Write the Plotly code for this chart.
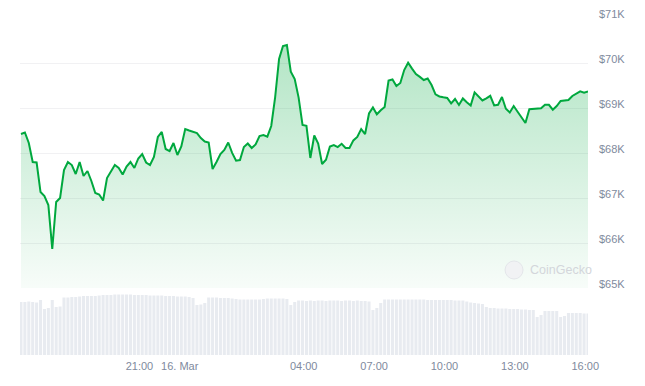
import pandas as pd
import plotly.graph_objects as go

# ---- data ----
start_time = "2024-03-15 15:57"
step = "10min"

price = [
    68422, 68456, 68222, 67800, 67789, 67133, 67044, 66844, 65867, 66911,
    67000, 67622, 67800, 67733, 67533, 67800, 67489, 67600, 67378, 67111,
    67078, 66944, 67444, 67585, 67733, 67667, 67522, 67700, 67800, 67667,
    67878, 67978, 67789, 67733, 67911, 68356, 68467, 68089, 68044, 68222,
    67956, 68144, 68533, 68500, 68467, 68444, 68333, 68256, 68233, 67644,
    67800, 67978, 68067, 68233, 68004, 67829, 67844, 68133, 68211, 68111,
    68189, 68378, 68400, 68364, 68600, 69244, 70089, 70378, 70400, 69809,
    69644, 69231, 68622, 68604, 67889, 68389, 68207, 67756, 67849, 68144,
    68178, 68133, 68204, 68111, 68111, 68280, 68356, 68533, 68422, 68878,
    69011, 68860, 68951, 69022, 69611, 69633, 69489, 69556, 69844, 70007,
    69876, 69756, 69691, 69622, 69656, 69511, 69304, 69256, 69238, 69224,
    69104, 69200, 69067, 69213, 69129, 69056, 69347, 69267, 69167, 69216,
    69271, 69056, 69071, 69244, 68982, 68900, 69044, 68918, 68778, 68667,
    68971, 68982, 68982, 68993, 69073, 69071, 68962, 69044, 69156, 69169,
    69178, 69267, 69329, 69371, 69340, 69367,
]

volume_bn = [
    53, 53, 53.5, 53, 52.5, 55, 46, 47, 55, 48,
    48.5, 57.5, 57.5, 58, 58, 58.5, 59, 59, 59, 59,
    59.5, 60, 60, 60, 60.5, 60.5, 60.5, 60.5, 60.5, 60,
    60, 60, 60, 59.5, 59.5, 59.5, 59.5, 59, 59, 59,
    58.5, 58.5, 58.5, 58, 57, 50, 50.5, 52, 57.5, 57.5,
    57.5, 57, 57, 57, 56.5, 56, 55.5, 55.5, 55.5, 55.5,
    55.5, 55.5, 56, 56.5, 56.5, 56.5, 56.5, 56.5, 56, 50,
    53, 54.5, 54.5, 54, 54.5, 54, 54.5, 54.5, 54, 54.5,
    54.5, 54.5, 54, 54.5, 54.5, 54, 54.5, 54, 54, 53.5,
    45, 47, 52, 55.5, 55.5, 55.5, 55.5, 55.5, 55.5, 55.5,
    55.5, 55.5, 55.5, 55.5, 55, 55, 55, 55, 55, 55,
    55, 54.5, 54.5, 54.5, 53.5, 52.5, 52, 51.5, 51, 48,
    47, 47, 46.5, 46.5, 46.5, 46, 46, 46, 45.5, 45.5,
    45, 45, 38, 40, 44, 44, 44, 44, 38, 39,
    42, 42, 42, 42, 41.5, 41.5,
]

x_range = ["2024-03-15 15:54:30", "2024-03-16 16:07"]
tick_times = ["2024-03-15 21:00", "2024-03-15 22:43", "2024-03-16 04:00",
              "2024-03-16 07:00", "2024-03-16 10:00", "2024-03-16 13:00",
              "2024-03-16 16:00"]
tick_labels = ["21:00", "16. Mar", "04:00", "07:00", "10:00", "13:00", "16:00"]

price_ticks = [65000, 66000, 67000, 68000, 69000, 70000, 71000]
price_tick_labels = ["$65K", "$66K", "$67K", "$68K", "$69K", "$70K", "$71K"]
price_range = [65000, 71000]

times = pd.date_range(start_time, periods=len(price), freq=step)

GREEN = "#00a83e"
FONT = "Liberation Sans"
GRAY = "#808a9d"

fig = go.Figure()

fig.add_trace(go.Bar(
    x=times, y=volume_bn, yaxis="y2",
    marker=dict(color="#e8ebf0", line=dict(width=0)),
    hoverinfo="skip",
))

fig.add_trace(go.Scatter(
    x=times, y=price, mode="lines",
    line=dict(color=GREEN, width=2),
    fill="tozeroy",
    fillgradient=dict(
        type="vertical",
        colorscale=[[0, "rgba(0,168,62,0.03)"], [1, "rgba(0,168,62,0.30)"]],
        start=65000, stop=70400,
    ),
    hoverinfo="skip",
))

# invisible carrier so the label axis is drawn
fig.add_trace(go.Scatter(
    x=[times[0]], y=[price_range[0]], yaxis="y3", mode="markers",
    marker=dict(opacity=0), hoverinfo="skip",
))

fig.update_layout(
    width=645, height=386,
    margin=dict(l=20, r=57, t=10, b=31, autoexpand=False),
    paper_bgcolor="white", plot_bgcolor="rgba(0,0,0,0)",
    showlegend=False, hovermode=False,
    bargap=0.22,
    font=dict(family=FONT, size=11, color=GRAY),
    xaxis=dict(
        type="date", range=x_range, anchor="y2", automargin=False,
        tickvals=tick_times, ticktext=tick_labels,
        showgrid=False, zeroline=False, showline=False,
        ticks="", ticklabelstandoff=3,
        tickfont=dict(size=11, color=GRAY),
    ),
    # price axis: gridlines only
    yaxis=dict(
        domain=[0.1942, 0.9768], range=price_range,
        side="right", anchor="x", automargin=False,
        tickvals=price_ticks, showticklabels=False,
        showgrid=True, gridcolor="#f1f1f3", gridwidth=1,
        zeroline=False, showline=False, ticks="",
    ),
    # price labels, sitting a few px above their gridlines
    yaxis3=dict(
        domain=[0.2058, 0.9884], range=price_range,
        side="right", anchor="x", automargin=False,
        tickvals=price_ticks, ticktext=price_tick_labels,
        showgrid=False, zeroline=False, showline=False, ticks="",
        ticklabelstandoff=10,
        tickfont=dict(size=11, color=GRAY),
    ),
    yaxis2=dict(
        domain=[0, 0.1797], range=[0, 62], anchor="x", automargin=False,
        showgrid=False, zeroline=False, showticklabels=False, ticks="",
    ),
)

# CoinGecko watermark
fig.add_shape(type="circle", xref="paper", yref="paper",
              x0=0.854, x1=0.8856, y0=0.2203, y1=0.2725,
              line=dict(color="#e4e6ea", width=1), fillcolor="#f1f2f4")
fig.add_annotation(text="CoinGecko", xref="paper", yref="paper",
                   x=0.894, y=0.2464, xanchor="left", yanchor="middle",
                   showarrow=False,
                   font=dict(family=FONT, size=12.5, color="#d3d6db"))

fig.write_html("out.html")
